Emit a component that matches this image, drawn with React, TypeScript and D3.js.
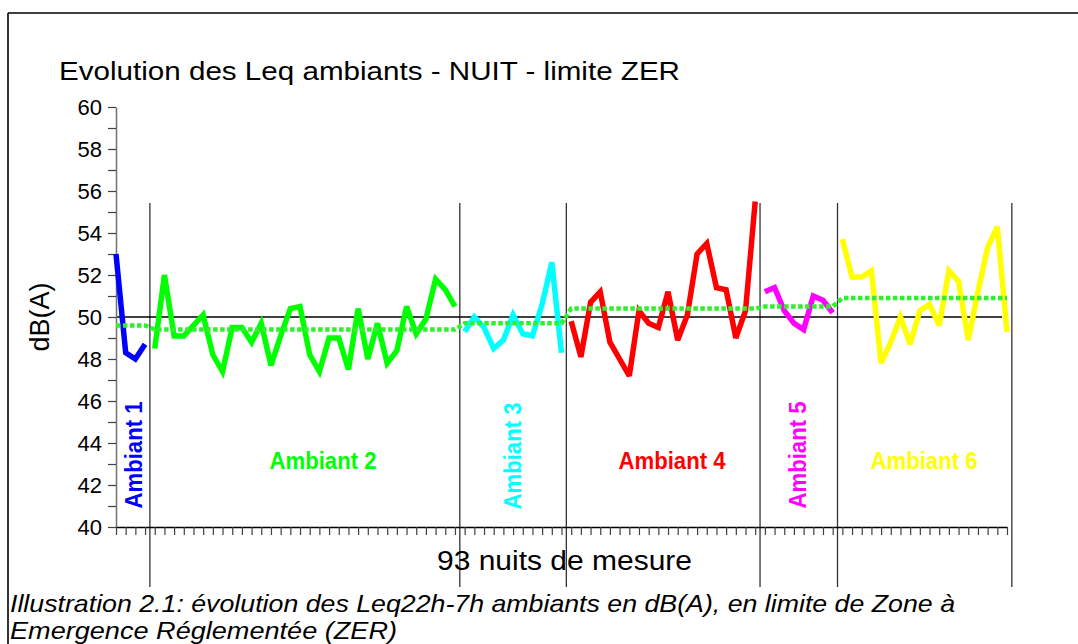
import React, { useEffect, useRef } from 'react';
import * as d3 from 'd3';

// night-by-night Leq (dB(A)) for each ambiant period
const ambiant1 = [53.0, 48.3, 48.0, 48.7];
const ambiant2 = [
  48.5, 52.0, 49.1, 49.1, 49.6, 50.1, 48.2, 47.4, 49.5, 49.5, 48.8, 49.7, 47.7, 49.1, 50.4, 50.5,
  48.2, 47.4, 49.0, 49.0, 47.5, 50.4, 48.0, 49.7, 47.8, 48.4, 50.5, 49.2, 49.9, 51.8, 51.3, 50.5,
];
const ambiant3 = [49.3, 50.0, 49.5, 48.5, 48.9, 50.1, 49.2, 49.1, 50.6, 52.6, 48.3];
const ambiant4 = [
  49.8, 48.1, 50.7, 51.2, 48.8, 48.0, 47.2, 50.3, 49.7, 49.5, 51.2, 48.9, 50.1, 53.0, 53.5, 51.4,
  51.3, 49.0, 50.3, 55.5,
];
const ambiant5 = [51.2, 51.4, 50.3, 49.7, 49.4, 51.0, 50.8, 50.2];
const ambiant6 = [
  53.7, 51.9, 51.9, 52.2, 47.8, 48.8, 50.0, 48.7, 50.3, 50.6, 49.6, 52.2, 51.7, 48.9, 51.2, 53.3,
  54.3, 49.3,
];

// mean level of each period (dotted line)
const ambiantMeans = [49.6, 49.4, 49.7, 50.4, 50.5, 50.9];

const ambiantNames = ['Ambiant 1', 'Ambiant 2', 'Ambiant 3', 'Ambiant 4', 'Ambiant 5', 'Ambiant 6'];
const ambiantColors = ['#0000ff', '#00ff00', '#00ffff', '#ff0000', '#ff00ff', '#ffff00'];

const limitZER = 50;
const yLabels = [40, 42, 44, 46, 48, 50, 52, 54, 56, 58, 60];

const title = 'Evolution des Leq ambiants - NUIT - limite ZER';
const xTitle = '93 nuits de mesure';
const yTitle = 'dB(A)';
const caption1 = 'Illustration 2.1: évolution des Leq22h-7h ambiants en dB(A), en limite de Zone à';
const caption2 = 'Emergence Réglementée  (ZER)';

const series = [ambiant1, ambiant2, ambiant3, ambiant4, ambiant5, ambiant6];

// layout
const W = 1078;
const H = 644;
const X0 = 116;
const X1 = 1007;
const Y0 = 527;
const Y1 = 107;
const FONT = '"Liberation Sans", Arial, sans-serif';
const labelLayout = [
  { x: 134, y: 455, vertical: true },
  { x: 323, y: 461, vertical: false },
  { x: 513, y: 456, vertical: true },
  { x: 672, y: 461, vertical: false },
  { x: 798, y: 455, vertical: true },
  { x: 924, y: 461, vertical: false },
];

const App = () => {
  const yAxisRef = useRef<SVGGElement>(null);
  const xAxisRef = useRef<SVGGElement>(null);

  const nTotal = series.reduce((s, a) => s + a.length, 0);
  const starts: number[] = [];
  series.reduce((acc, a) => {
    starts.push(acc);
    return acc + a.length;
  }, 0);

  const x = d3.scaleLinear().domain([0, nTotal - 1]).range([X0, X1]);
  const y = d3.scaleLinear().domain([40, 60]).range([Y0, Y1]);

  const line = d3
    .line<{ i: number; v: number }>()
    .x((d) => x(d.i))
    .y((d) => y(d.v));

  const segments = series.map((vals, s) => vals.map((v, j) => ({ i: starts[s] + j, v })));
  const meanPoints = series.flatMap((vals, s) => vals.map((_, j) => ({ i: starts[s] + j, v: ambiantMeans[s] })));
  const separators = [...starts.slice(1).map((st) => st - 0.5), nTotal - 0.5];

  useEffect(() => {
    const gy = d3.select(yAxisRef.current);
    gy.selectAll('*').remove();
    gy.call(
      d3
        .axisLeft(y)
        .tickValues(d3.range(40, 61, 1))
        .tickSize(8)
        .tickSizeOuter(0)
        .tickPadding(6)
        .tickFormat((d) => (yLabels.includes(+d) ? String(d) : ''))
    );
    gy.select('.domain').attr('stroke', '#707070').attr('stroke-width', 1.5);
    gy.selectAll('.tick line').attr('stroke', '#404040').attr('stroke-width', 1.2);
    gy.selectAll('.tick text')
      .attr('font-family', FONT)
      .attr('font-size', 22)
      .attr('fill', '#000');

    const gx = d3.select(xAxisRef.current);
    gx.selectAll('*').remove();
    gx.call(
      d3
        .axisBottom(x)
        .tickValues(d3.range(0, nTotal))
        .tickSize(8)
        .tickSizeOuter(0)
        .tickFormat(() => '')
    );
    gx.select('.domain').attr('stroke', '#000').attr('stroke-width', 1.5);
    gx.selectAll('.tick line').attr('stroke', '#404040').attr('stroke-width', 1.2);
  }, []);

  return (
    <svg
      width={W}
      height={H}
      style={{ position: 'absolute', left: 0, top: 0, background: '#fff' }}
      fontFamily={FONT}
    >
      <rect x={0} y={0} width={W} height={H} fill="#fff" />
      <line x1={8} y1={13} x2={W} y2={13} stroke="#000" strokeWidth={1.6} />
      <line x1={8} y1={13} x2={8} y2={H} stroke="#000" strokeWidth={1.6} />

      <text x={59} y={80} fontSize={26} textLength={621} lengthAdjust="spacingAndGlyphs">
        {title}
      </text>

      {separators.map((s, k) => (
        <line key={k} x1={x(s)} x2={x(s)} y1={203} y2={587} stroke="#333" strokeWidth={1.3} />
      ))}

      <line x1={X0} x2={x(nTotal - 1.5)} y1={y(limitZER)} y2={y(limitZER)} stroke="#000" strokeWidth={1.5} />

      <g ref={yAxisRef} transform={`translate(${X0},0)`} />
      <g ref={xAxisRef} transform={`translate(0,${Y0})`} />

      {segments.map((pts, s) => (
        <path
          key={s}
          d={line(pts) || ''}
          fill="none"
          stroke={ambiantColors[s]}
          strokeWidth={5.5}
          strokeLinejoin="miter"
          strokeMiterlimit={3}
        />
      ))}

      <path
        d={line(meanPoints) || ''}
        fill="none"
        stroke="#2ef02e"
        strokeWidth={4.5}
        strokeDasharray="4.5 2.5"
      />

      {ambiantNames.map((name, s) => {
        const l = labelLayout[s];
        return (
          <text
            key={name}
            x={0}
            y={0}
            transform={`translate(${l.x},${l.y})${l.vertical ? ' rotate(-90)' : ''}`}
            textAnchor="middle"
            dominantBaseline="central"
            fontSize={23}
            fontWeight="bold"
            fill={ambiantColors[s]}
            textLength={107}
            lengthAdjust="spacingAndGlyphs"
          >
            {name}
          </text>
        );
      })}

      <text
        transform={`translate(40,${y(50)}) rotate(-90)`}
        textAnchor="middle"
        dominantBaseline="central"
        fontSize={27}
      >
        {yTitle}
      </text>

      <text x={437} y={570} fontSize={27} textLength={255} lengthAdjust="spacingAndGlyphs">
        {xTitle}
      </text>

      <text x={10} y={612} fontSize={24} fontStyle="italic" textLength={945} lengthAdjust="spacingAndGlyphs">
        {caption1}
      </text>
      <text x={10} y={639} fontSize={24} fontStyle="italic" textLength={387} lengthAdjust="spacingAndGlyphs">
        {caption2}
      </text>
    </svg>
  );
};

export default App;
